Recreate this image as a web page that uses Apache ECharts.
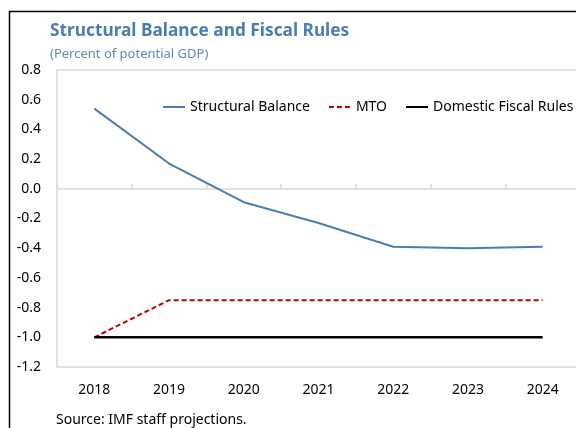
<!DOCTYPE html>
<html>
<head>
<meta charset="utf-8">
<script src="https://cdn.jsdelivr.net/npm/echarts@6/dist/echarts.min.js"></script>
<style>html,body{margin:0;padding:0;background:#fff}#c{width:576px;height:428px}</style>
</head>
<body>
<div id="c"></div>
<script>
const years = ['2018','2019','2020','2021','2022','2023','2024'];
const structuralBalance = [0.54, 0.17, -0.09, -0.23, -0.39, -0.40, -0.39];
const mto = [-1.0, -0.75, -0.75, -0.75, -0.75, -0.75, -0.75];
const domesticRules = [-1.0, -1.0, -1.0, -1.0, -1.0, -1.0, -1.0];

const FONT = '"Noto Sans", "Open Sans", sans-serif';
const chart = echarts.init(document.getElementById('c'));
chart.setOption({
  animation: false,
  backgroundColor: '#fff',
  textStyle: { fontFamily: FONT },
  title: [
    { text: 'Structural Balance and Fiscal Rules', left: 45, top: 18,
      textStyle: { fontFamily: FONT, fontSize: 17.3, fontWeight: 'bold', color: '#4a7db3' } },
    { text: '(Percent of potential GDP)', left: 45, top: 43,
      textStyle: { fontFamily: FONT, fontSize: 13, fontWeight: 'normal', color: '#5b8ac0' } },
    { text: 'Source: IMF staff projections.', left: 51, top: 408,
      textStyle: { fontFamily: FONT, fontSize: 14, fontWeight: 'normal', color: '#000' } }
  ],
  graphic: [
    { type: 'polyline', shape: { points: [[9.5, 428], [9.5, 11.5], [576, 11.5]] },
      style: { stroke: '#000', lineWidth: 1.5, fill: null } }
  ],
  legend: {
    left: 157, top: 95, width: 440,
    itemWidth: 22, itemHeight: 10, itemGap: 18,
    itemStyle: { opacity: 0 },
    textStyle: { fontFamily: FONT, fontSize: 14, color: '#000' },
    data: ['Structural Balance', 'MTO', 'Domestic Fiscal Rules']
  },
  grid: { left: 57, right: -4, top: 70, bottom: 61, show: true, borderColor: '#d9d9d9', borderWidth: 1.5,
    containLabel: false, outerBoundsMode: 'none' },
  xAxis: [
    { type: 'category', data: years, position: 'bottom',
      axisLine: { show: false, onZero: false },
      axisTick: { show: false },
      axisLabel: { fontFamily: FONT, fontSize: 14, color: '#000', margin: 16 } },
    { type: 'category', data: years, position: 'bottom',
      axisLine: { show: true, onZero: true, lineStyle: { color: '#d9d9d9', width: 1.5 } },
      axisTick: { show: true, inside: true, length: 5, lineStyle: { color: '#d9d9d9', width: 1.5 } },
      axisLabel: { show: false } }
  ],
  yAxis: {
    type: 'value', min: -1.2, max: 0.8, interval: 0.2,
    axisLine: { show: false }, axisTick: { show: false }, splitLine: { show: false },
    axisLabel: { fontFamily: FONT, fontSize: 14, color: '#000', margin: 16,
      formatter: v => (Math.abs(v) < 1e-9 ? 0 : v).toFixed(1) }
  },
  series: [
    { name: 'Structural Balance', type: 'line', data: structuralBalance, symbol: 'none',
      lineStyle: { color: '#4a7db3', width: 2 }, itemStyle: { color: '#4a7db3' } },
    { name: 'MTO', type: 'line', data: mto, symbol: 'none',
      lineStyle: { color: '#c00000', width: 2, type: [5, 3] }, itemStyle: { color: '#c00000' } },
    { name: 'Domestic Fiscal Rules', type: 'line', data: domesticRules, symbol: 'none',
      lineStyle: { color: '#000', width: 2.5 }, itemStyle: { color: '#000' } }
  ]
});
</script>
</body>
</html>
